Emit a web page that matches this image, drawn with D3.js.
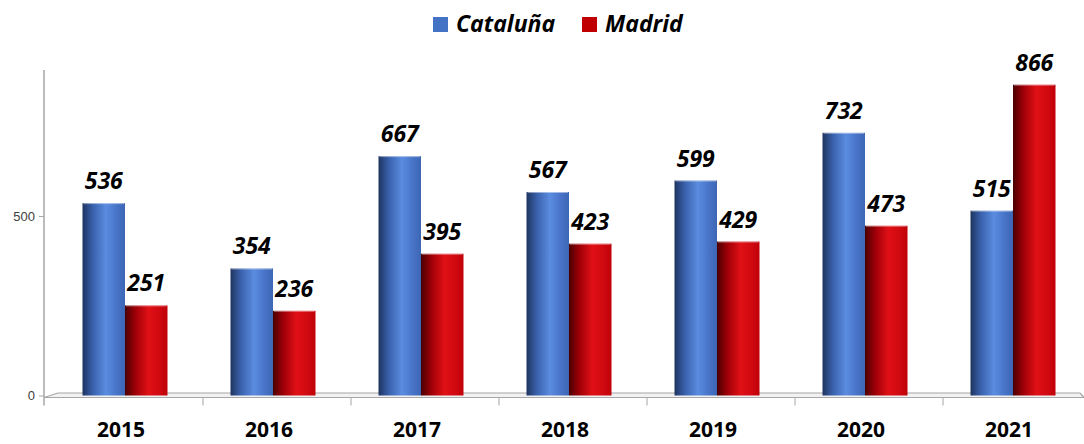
<!DOCTYPE html>
<html>
<head>
<meta charset="utf-8">
<script src="https://cdn.jsdelivr.net/npm/d3@7"></script>
<style>
    body { margin: 0; background: #fff; }
    svg { display: block; font-family: "Open Sans", "Liberation Sans", sans-serif; }
</style>
</head>
<body>
<div id="chart"></div>
<script>
// Data
const years = ["2015", "2016", "2017", "2018", "2019", "2020", "2021"];
const seriesNames = ["Cataluña", "Madrid"];
const cataluna = [536, 354, 667, 567, 599, 732, 515];
const madrid = [251, 236, 395, 423, 429, 473, 866];
const yTicks = [0, 500];

const W = 1084, H = 444;
const svg = d3.select("#chart").append("svg")
    .attr("width", W)
    .attr("height", H);

// gradients to fake the cylinder look
const defs = svg.append("defs");
function cylinder(id, stops) {
    const g = defs.append("linearGradient")
        .attr("id", id)
        .attr("x1", "0%").attr("x2", "100%")
        .attr("y1", "0%").attr("y2", "0%");
    stops.forEach(s => g.append("stop").attr("offset", s[0]).attr("stop-color", s[1]));
}
cylinder("gBlue", [[0, "#1e3460"], [0.25, "#3a62ad"], [0.55, "#5a8ce0"], [0.8, "#4874c8"], [1, "#3d66b4"]]);
cylinder("gRed", [[0, "#4a0000"], [0.25, "#a00008"], [0.55, "#e01016"], [0.8, "#d00a10"], [1, "#c00008"]]);
const fills = ["url(#gBlue)", "url(#gRed)"];
const legendColors = ["#4472c4", "#c00000"];

const data = years.map((y, i) => ({ year: y, values: [cataluna[i], madrid[i]] }));

// scales
const x0 = d3.scaleBand()
    .domain(years)
    .range([51, 1087])
    .paddingInner(0.4257)
    .paddingOuter(0.2128);
const x1 = d3.scaleBand()
    .domain([0, 1])
    .range([0, x0.bandwidth()]);
const y = d3.scaleLinear()
    .domain([0, 900])
    .range([395.5, 72.5]);

// floor (3D base)
const axisX = 44;
svg.append("path")
    .attr("d", `M${axisX},${y(0) + 2}L${axisX + 14},${y(0) - 2.5}L1080,${y(0) - 2.5}L1084,${y(0) + 2}Z`)
    .attr("fill", "#f2f2f2")
    .attr("stroke", "#a6a6a6")
    .attr("stroke-width", 1.2);

// y axis
const yAxis = svg.append("g")
    .attr("transform", `translate(${axisX},0)`)
    .call(d3.axisLeft(y).tickValues(yTicks).tickSize(5).tickFormat(d3.format("d")));
yAxis.select(".domain")
    .attr("d", `M0,70V${y(0) + 10}`)
    .attr("stroke", "#a6a6a6")
    .attr("stroke-width", 1.5);
yAxis.selectAll(".tick line").attr("stroke", "#a6a6a6");
yAxis.selectAll(".tick text")
    .attr("fill", "#404040")
    .attr("font-size", 13)
    .attr("x", -9);

// x axis: category separators and labels
const xAxisG = svg.append("g");
xAxisG.append("line")
    .attr("x1", axisX).attr("x2", 1084)
    .attr("y1", y(0) + 2).attr("y2", y(0) + 2)
    .attr("stroke", "#a6a6a6")
    .attr("stroke-width", 1.2);
xAxisG.selectAll("line.sep")
    .data(years.slice(1))
    .join("line")
    .attr("class", "sep")
    .attr("x1", d => x0(d) - x0.step() * x0.paddingInner() / 2 + 4)
    .attr("x2", d => x0(d) - x0.step() * x0.paddingInner() / 2 + 4)
    .attr("y1", y(0) + 2)
    .attr("y2", y(0) + 10)
    .attr("stroke", "#a6a6a6");
xAxisG.selectAll("text")
    .data(years)
    .join("text")
    .attr("x", d => x0(d) + x0.bandwidth() / 2 - 4)
    .attr("y", 437)
    .attr("text-anchor", "middle")
    .attr("font-size", 21)
    .attr("font-weight", "bold")
    .attr("fill", "#000")
    .text(d => d);

// bars
const groups = svg.append("g")
    .selectAll("g")
    .data(data)
    .join("g")
    .attr("transform", d => `translate(${x0(d.year)},0)`);

groups.selectAll("rect")
    .data(d => d.values)
    .join("rect")
    .attr("x", (d, i) => x1(i))
    .attr("y", d => y(d))
    .attr("width", x1.bandwidth())
    .attr("height", d => y(0) - y(d))
    .attr("fill", (d, i) => fills[i]);

// light rim on top of each cylinder
groups.selectAll("line.rim")
    .data(d => d.values)
    .join("line")
    .attr("class", "rim")
    .attr("x1", (d, i) => x1(i) + 1)
    .attr("x2", (d, i) => x1(i) + x1.bandwidth() - 1)
    .attr("y1", d => y(d) + 0.5)
    .attr("y2", d => y(d) + 0.5)
    .attr("stroke", "#ffffff")
    .attr("stroke-opacity", 0.45);

// value labels
groups.selectAll("text")
    .data(d => d.values)
    .join("text")
    .attr("x", (d, i) => x1(i) + x1.bandwidth() / 2)
    .attr("y", d => y(d) - 14)
    .attr("text-anchor", "middle")
    .attr("font-size", 23)
    .attr("font-weight", "bold")
    .attr("font-style", "italic")
    .attr("fill", "#000")
    .text(d => d);

// legend
const legendPos = [433, 582];
const legend = svg.append("g")
    .selectAll("g")
    .data(seriesNames)
    .join("g")
    .attr("transform", (d, i) => `translate(${legendPos[i]},17)`);
legend.append("rect")
    .attr("width", 15)
    .attr("height", 15)
    .attr("fill", (d, i) => legendColors[i]);
legend.append("text")
    .attr("x", 23)
    .attr("y", 15)
    .attr("font-size", 23)
    .attr("font-weight", "bold")
    .attr("font-style", "italic")
    .attr("fill", "#000")
    .text(d => d);
</script>
</body>
</html>
